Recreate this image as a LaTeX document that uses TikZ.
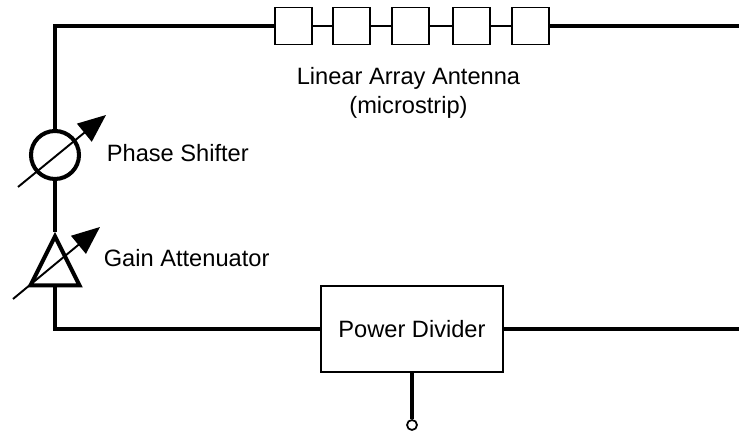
\documentclass[tikz,border=0pt]{standalone}
\usepackage{fontspec}
\setmainfont{Liberation Sans}
\usetikzlibrary{arrows.meta,shapes.geometric}
\begin{document}
\begin{tikzpicture}[
    patch/.style={rectangle, draw, line width=1.1pt, minimum size=7.4mm, inner sep=0pt},
    feed/.style={line width=2.3pt},
    link/.style={line width=1.2pt},
    tune/.style={-{Triangle[length=5.6mm, width=4.6mm]}, line width=1.1pt},
    label/.style={font=\fontsize{13.45}{16}\selectfont, inner sep=0pt}
]
    \useasboundingbox (0,0) rectangle (14.78,8.64);

    % patches
    \node[patch] (p1) at (5.87,8.12) {};
    \node[patch] (p2) at (7.03,8.12) {};
    \node[patch] (p3) at (8.21,8.12) {};
    \node[patch] (p4) at (9.43,8.12) {};
    \node[patch] (p5) at (10.61,8.12) {};

    % parts
    \node[circle, draw, line width=2.3pt, minimum size=9.6mm, inner sep=0pt] (shifter) at (1.10,5.54) {};
    \node[isosceles triangle, isosceles triangle apex angle=53, isosceles triangle stretches,
          shape border rotate=90, draw, line width=2.3pt, miter limit=10, minimum width=9.8mm, minimum height=9.8mm,
          inner sep=0pt, anchor=lower side] (atten) at (1.10,2.89) {};
    \node[rectangle, draw, line width=1.3pt, minimum width=36.4mm, minimum height=17.2mm,
          label] (divider) at (8.24,2.06) {Power Divider};
    \node[circle, draw, line width=1pt, minimum size=2mm, inner sep=0pt] (port) at (8.24,0.14) {};

    % free ends
    \coordinate (topleft) at (1.10,8.12);
    \coordinate (topright) at (14.78,8.12);
    \coordinate (botleft) at (1.10,2.06);
    \coordinate (botright) at (14.78,2.06);
    \coordinate (a1) at (0.36,4.90);
    \coordinate (a2) at (2.12,6.34);
    \coordinate (b1) at (0.26,2.66);
    \coordinate (b2) at (2.00,4.10);

    % lines
    \draw[feed] (shifter.north) |- (topleft) -- (p1.west);
    \draw[feed] (p5.east) -- (topright);
    \draw[link] (p1) -- (p2);
    \draw[link] (p2) -- (p3);
    \draw[link] (p3) -- (p4);
    \draw[link] (p4) -- (p5);
    \draw[feed] (shifter.south) -- (atten.apex);
    \draw[feed] (atten.lower side) |- (botleft) -- (divider.west);
    \draw[feed] (divider.east) -- (botright);
    \draw[feed] (divider.south) -- (port.north);
    \draw[tune] (a1) -- (a2);
    \draw[tune] (b1) -- (b2);

    % labels
    \node[label] (arrayname) at (8.17,7.07) {Linear Array Antenna};
    \node[label] (arraytype) at (8.17,6.50) {(microstrip)};
    \node[label, anchor=west] (shiftername) at (2.13,5.58) {Phase Shifter};
    \node[label, anchor=west] (attenname) at (2.07,3.48) {Gain Attenuator};
\end{tikzpicture}
\end{document}
